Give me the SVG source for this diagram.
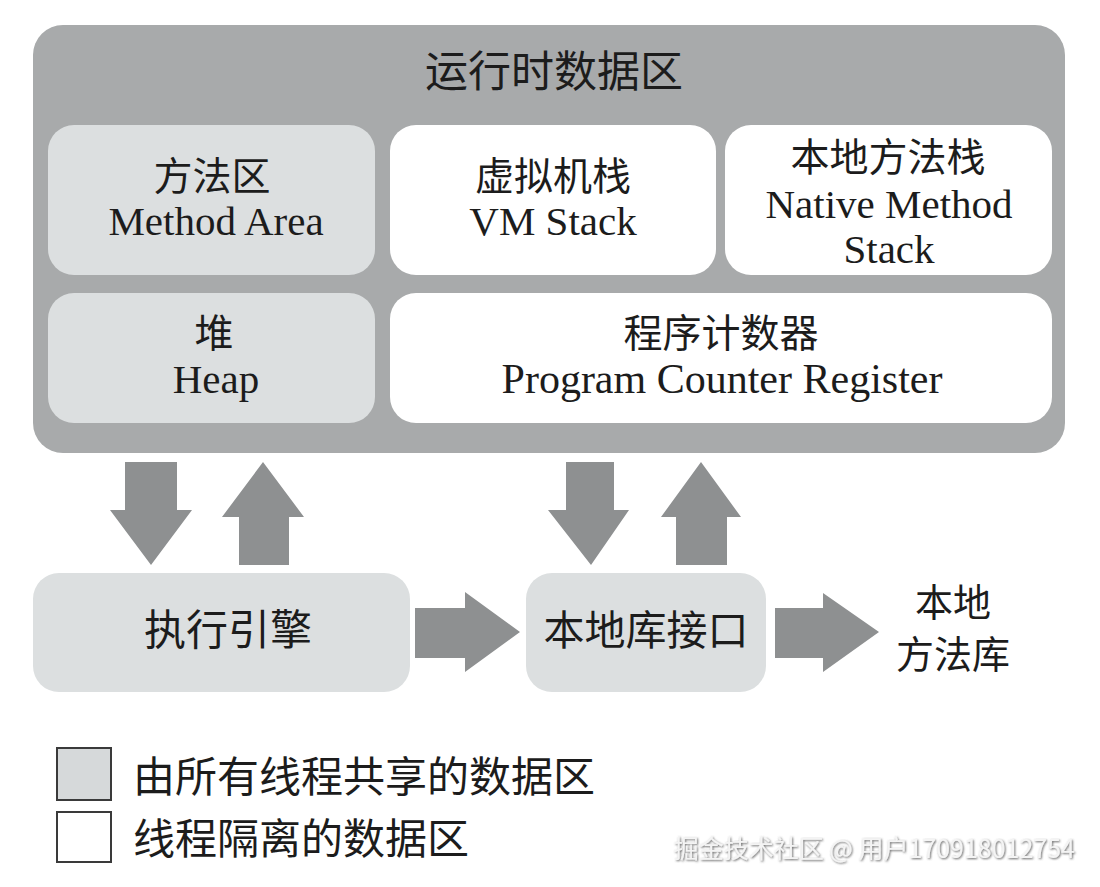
<svg xmlns="http://www.w3.org/2000/svg" width="1100" height="887" viewBox="0 0 1100 887">
<defs>
<style>
.t{font-family:"Liberation Serif","Noto Sans CJK SC",serif;font-size:41px;fill:#1c1c1c;text-anchor:middle}
.c{font-family:"Noto Sans CJK SC","Liberation Serif",serif;font-size:39px;fill:#1c1c1c;text-anchor:middle}
.l{font-family:"Noto Sans CJK SC","Liberation Serif",serif;font-size:42px;fill:#1c1c1c;text-anchor:start}
.shared{fill:#dcdfe0}
.priv{fill:#ffffff}
.arrow{fill:#8e9091}
</style>
<filter id="sh" x="-5%" y="-30%" width="110%" height="160%">
<feDropShadow dx="1" dy="1" stdDeviation="0.8" flood-color="#555" flood-opacity="0.9"/>
</filter>
</defs>
<rect width="1100" height="887" fill="#ffffff"/>

<g id="runtime-data-area">
<rect x="33" y="25" width="1032" height="428" rx="30" fill="#a8aaab"/>
<text class="c" x="554" y="87" style="font-size:43px">运行时数据区</text>
</g>

<g id="method-area">
<rect class="shared" x="48" y="125" width="327" height="150" rx="26"/>
<text class="c" x="212" y="190">方法区</text>
<text class="t" x="216" y="235">Method Area</text>
</g>

<g id="vm-stack">
<rect class="priv" x="390" y="125" width="326" height="150" rx="26"/>
<text class="c" x="553" y="190">虚拟机栈</text>
<text class="t" x="553" y="235">VM Stack</text>
</g>

<g id="native-method-stack">
<rect class="priv" x="725" y="125" width="327" height="150" rx="26"/>
<text class="c" x="888" y="171">本地方法栈</text>
<text class="t" x="889" y="218">Native Method</text>
<text class="t" x="889" y="263">Stack</text>
</g>

<g id="heap">
<rect class="shared" x="48" y="293" width="327" height="130" rx="26"/>
<text class="c" x="214" y="347">堆</text>
<text class="t" x="216" y="393">Heap</text>
</g>

<g id="program-counter">
<rect class="priv" x="390" y="293" width="662" height="130" rx="26"/>
<text class="c" x="721" y="347">程序计数器</text>
<text class="t" x="722" y="393" style="font-size:42px">Program Counter Register</text>
</g>

<g id="execution-engine">
<rect class="shared" x="33" y="573" width="377" height="119" rx="26"/>
<text class="c" x="228" y="645" style="font-size:42px">执行引擎</text>
</g>

<g id="native-interface">
<rect class="shared" x="526" y="573" width="240" height="119" rx="26"/>
<text class="c" x="646" y="645" style="font-size:41px">本地库接口</text>
</g>

<g id="native-library">
<text class="c" x="953" y="616" style="font-size:38px">本地</text>
<text class="c" x="953" y="668" style="font-size:38px">方法库</text>
</g>

<g id="connectors">
<polygon class="arrow" points="125,462 177,462 177,510 192,510 151,565 110,510 125,510"/>
<polygon class="arrow" points="239,565 289,565 289,517 304,517 263,462 222,517 239,517"/>
<polygon class="arrow" points="566,462 614,462 614,510 629,510 591,565 548,510 566,510"/>
<polygon class="arrow" points="676,565 727,565 727,517 741,517 701,462 661,517 676,517"/>
<polygon class="arrow" points="415,608 465,608 465,592 520,632 465,672 465,658 415,658"/>
<polygon class="arrow" points="775,608 823,608 823,593 879,632 823,672 823,658 775,658"/>
</g>

<g id="legend">
<rect x="57" y="748" width="54" height="52" fill="#d6d9da" stroke="#3a3a3a" stroke-width="2"/>
<text class="l" x="133" y="792">由所有线程共享的数据区</text>
<rect x="57" y="812" width="54" height="50" fill="#ffffff" stroke="#3a3a3a" stroke-width="2"/>
<text class="l" x="133" y="854">线程隔离的数据区</text>
</g>

<g id="watermark">
<text x="1075" y="858" font-family="'Noto Sans CJK SC','Liberation Sans',sans-serif" font-size="25" fill="#f4f4f4" text-anchor="end" filter="url(#sh)">掘金技术社区 @ 用户170918012754</text>
</g>
</svg>
